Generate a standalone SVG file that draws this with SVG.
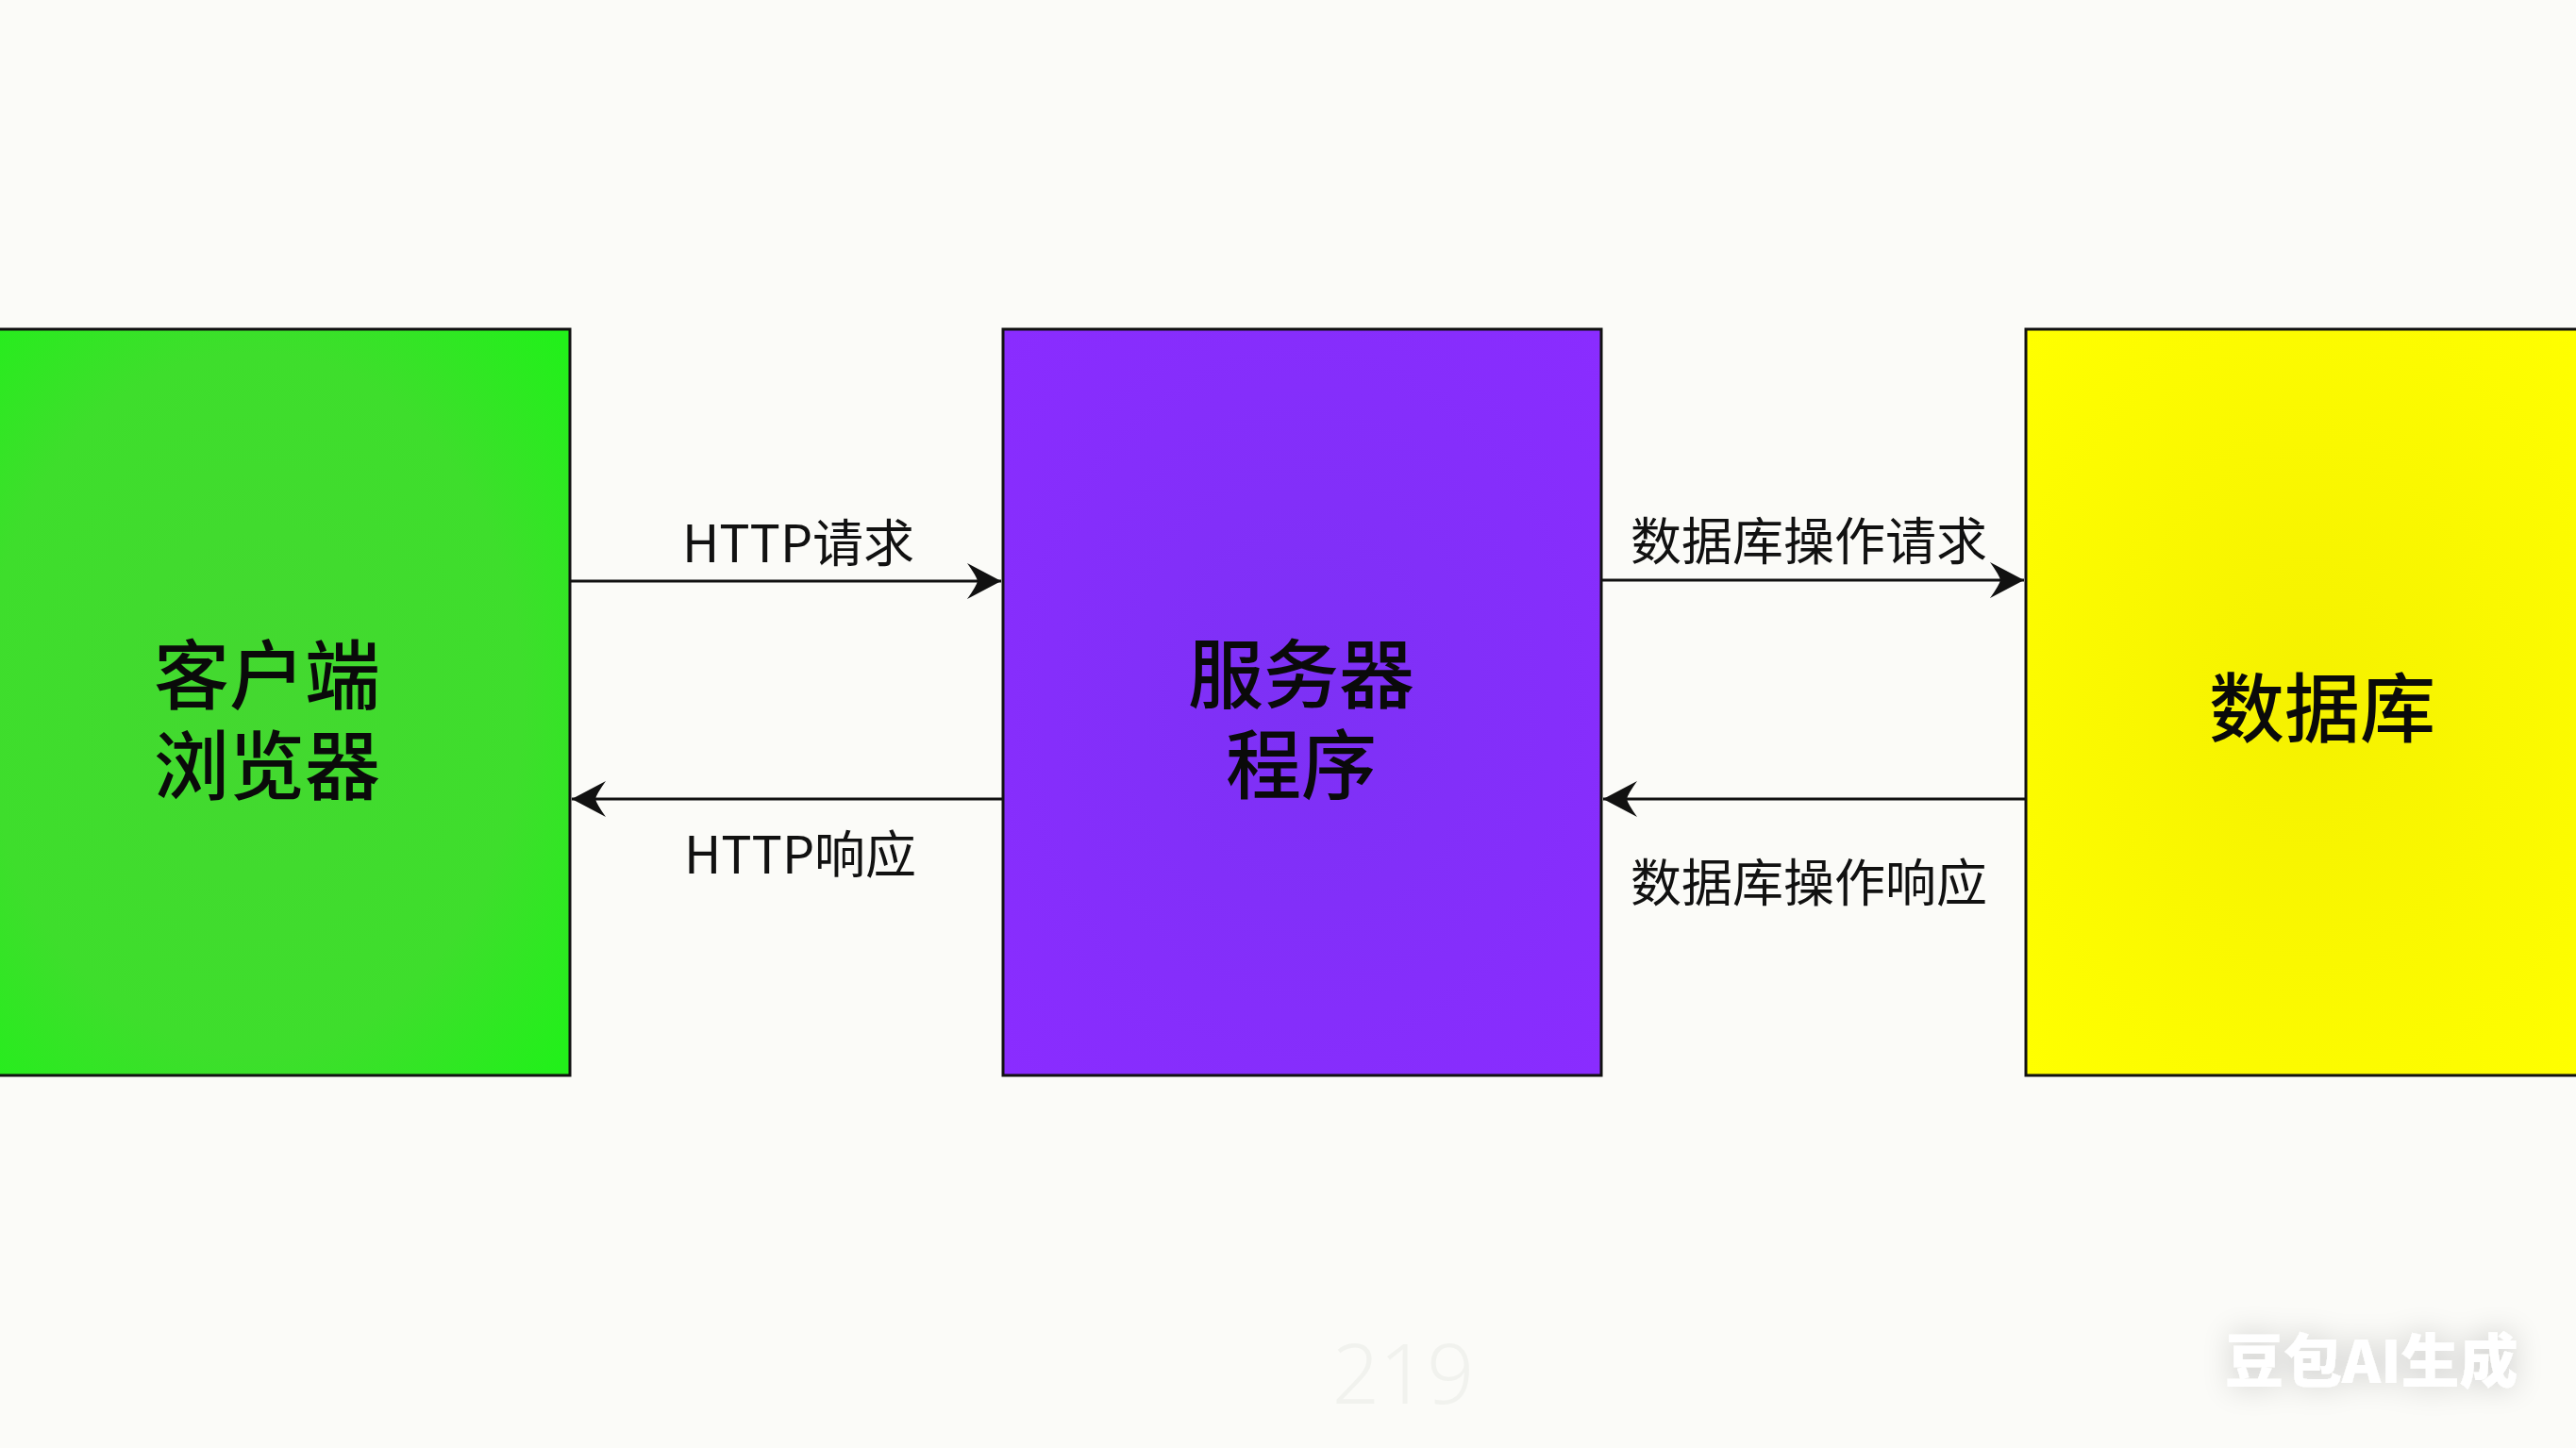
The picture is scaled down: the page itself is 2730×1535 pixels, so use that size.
<svg xmlns="http://www.w3.org/2000/svg" width="2730" height="1535" viewBox="0 0 2730 1535">
  <style>
    .box { stroke: #111; stroke-width: 3; }
    .node-text { font-family: "Noto Sans CJK SC", "Noto Sans", sans-serif; font-size: 80px; font-weight: 500; fill: #0a0a0a; text-anchor: middle; dominant-baseline: central; }
    .label { font-family: "Noto Sans CJK SC", "Noto Sans", sans-serif; font-size: 54px; fill: #111; text-anchor: middle; dominant-baseline: central; }
    .edge { stroke: #111; stroke-width: 3; fill: none; }
    .wm { font-family: "Noto Sans CJK SC", sans-serif; font-size: 62px; font-weight: 900; fill: #ffffff; }
  </style>
  <defs>
    <radialGradient id="gGreen" cx="45%" cy="50%" r="72%">
      <stop offset="0" stop-color="#44d830"/>
      <stop offset="0.65" stop-color="#3ede2c"/>
      <stop offset="1" stop-color="#22f01a"/>
    </radialGradient>
    <radialGradient id="gPurple" cx="50%" cy="50%" r="70%">
      <stop offset="0" stop-color="#7d31f5"/>
      <stop offset="1" stop-color="#8a2cff"/>
    </radialGradient>
    <radialGradient id="gYellow" cx="50%" cy="50%" r="70%">
      <stop offset="0" stop-color="#f5f100"/>
      <stop offset="1" stop-color="#ffff00"/>
    </radialGradient>
    <marker id="arrow" viewBox="-38 -22 40 44" refX="0" refY="0" markerWidth="40" markerHeight="44" markerUnits="userSpaceOnUse" orient="auto">
      <path d="M0,0 L-36,-19 Q-26,-5 -25,0 Q-26,5 -36,19 Z" fill="#111"/>
    </marker>
    <filter id="wmShadow" x="-30%" y="-60%" width="160%" height="220%">
      <feGaussianBlur in="SourceAlpha" stdDeviation="16" result="b"/>
      <feComponentTransfer in="b" result="b2"><feFuncA type="linear" slope="0.2"/></feComponentTransfer>
      <feMerge><feMergeNode in="b2"/><feMergeNode in="SourceGraphic"/></feMerge>
    </filter>
  </defs>

  <rect x="0" y="0" width="2730" height="1535" fill="#fbfbf8"/>

  <g id="node-client">
    <rect class="box" x="-5" y="349" width="609" height="791" fill="url(#gGreen)"/>
    <text class="node-text" x="283" y="710"><tspan x="283" y="710">客户端</tspan><tspan x="283" y="806">浏览器</tspan></text>
  </g>

  <g id="node-server">
    <rect class="box" x="1063" y="349" width="634" height="791" fill="url(#gPurple)"/>
    <text class="node-text" x="1379" y="709"><tspan x="1379" y="709">服务器</tspan><tspan x="1379" y="805">程序</tspan></text>
  </g>

  <g id="node-database">
    <rect class="box" x="2147" y="349" width="600" height="791" fill="url(#gYellow)"/>
    <text class="node-text" x="2461" y="745">数据库</text>
  </g>

  <g id="connectors">
    <line class="edge" x1="605" y1="616" x2="1061" y2="616" marker-end="url(#arrow)"/>
    <text class="label" x="846" y="572">HTTP请求</text>
    <line class="edge" x1="1062" y1="847" x2="606" y2="847" marker-end="url(#arrow)"/>
    <text class="label" x="848" y="902">HTTP响应</text>
    <line class="edge" x1="1698" y1="615" x2="2145" y2="615" marker-end="url(#arrow)"/>
    <text class="label" x="1917" y="570">数据库操作请求</text>
    <line class="edge" x1="2146" y1="847" x2="1699" y2="847" marker-end="url(#arrow)"/>
    <text class="label" x="1917" y="932">数据库操作响应</text>
  </g>

  <text x="1487" y="1488" font-family="'Noto Sans', sans-serif" font-size="88" font-weight="300" fill="#f1f2ee" text-anchor="middle">219</text>
  <text class="wm" x="2358" y="1466" filter="url(#wmShadow)">豆包AI生成</text>
</svg>
